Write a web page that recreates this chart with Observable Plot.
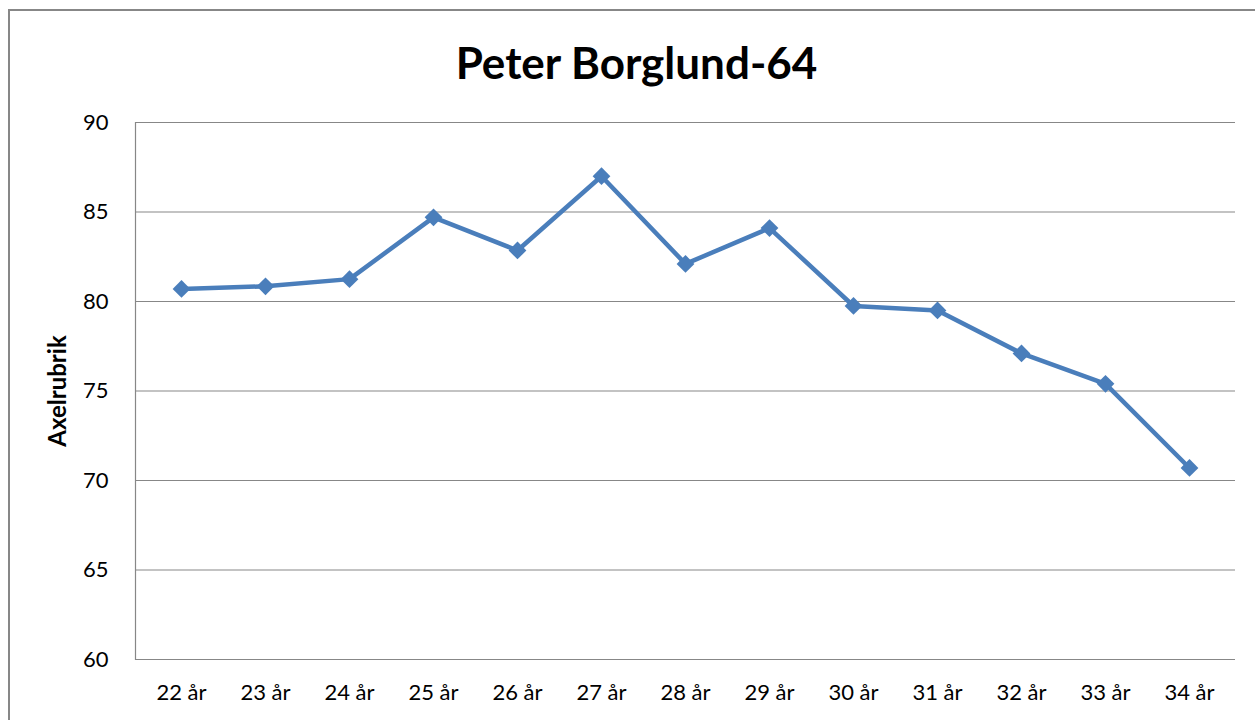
<!DOCTYPE html>
<html>
<head>
<meta charset="utf-8">
<script src="https://cdn.jsdelivr.net/npm/d3@7"></script>
<script src="https://cdn.jsdelivr.net/npm/@observablehq/plot@0.6"></script>
<style>
  html, body { margin: 0; padding: 0; background: #fff; overflow: hidden; }
  body { width: 1255px; height: 720px; position: relative; font-family: Lato, "Open Sans", sans-serif; }
  #border { position: absolute; left: 8px; top: 9px; width: 1300px; height: 800px; border: 2px solid #878787; box-sizing: border-box; }
  #title { position: absolute; left: 0; top: 0; width: 1255px; height: 100px; text-align: center; box-sizing: border-box; padding-left: 18px; padding-top: 40px; font-size: 44px; font-weight: bold; color: #000; line-height: 1; }
  #chart { position: absolute; left: 0; top: 100px; }
</style>
</head>
<body>
<div id="border"></div>
<div id="title">Peter Borglund-64</div>
<div id="chart"></div>
<script>
const ages = ["22 år","23 år","24 år","25 år","26 år","27 år","28 år","29 år","30 år","31 år","32 år","33 år","34 år"];
const values = [80.7, 80.85, 81.25, 84.7, 82.85, 87.0, 82.1, 84.1, 79.75, 79.5, 77.1, 75.4, 70.7];
const yTicks = [60, 65, 70, 75, 80, 85, 90];
const yLabel = "Axelrubrik";

const data = ages.map((a, i) => ({age: a, value: values[i]}));

const chart = Plot.plot({
  width: 1255,
  height: 620,
  marginLeft: 135,
  marginRight: 20,
  marginTop: 22,
  marginBottom: 61,
  style: { fontFamily: "Lato, 'Open Sans', sans-serif", fontSize: "22px", color: "#000", background: "transparent" },
  x: { type: "point", domain: ages, padding: 0.5, label: null },
  y: { domain: [60, 90], label: null },
  marks: [
    Plot.ruleY(yTicks, { stroke: "#878787", strokeWidth: 1.2, strokeOpacity: 1 }),
    Plot.frame({ anchor: "left", stroke: "#878787", strokeWidth: 1.2, strokeOpacity: 1 }),
    Plot.axisY({ ticks: yTicks, tickSize: 0, tickPadding: 27, fontSize: 22, label: null }),
    Plot.axisX({ tickSize: 0, tickPadding: 25, fontSize: 22, label: null }),
    Plot.text([yLabel], { frameAnchor: "left", textAnchor: "middle", dx: -77, rotate: -90, fontSize: 24, fontWeight: "bold", fill: "#000" }),
    Plot.line(data, { x: "age", y: "value", stroke: "#4a7ebb", strokeWidth: 4.5, strokeLinejoin: "round" }),
    Plot.dot(data, { x: "age", y: "value", symbol: "diamond2", r: 8, fill: "#4a7ebb", stroke: "none" })
  ]
});
document.getElementById("chart").appendChild(chart);
</script>
</body>
</html>
